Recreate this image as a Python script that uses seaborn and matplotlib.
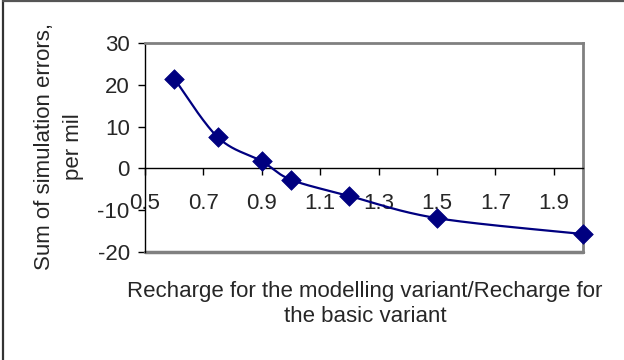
import numpy as np
import pandas as pd
import matplotlib
matplotlib.use("Agg")
import matplotlib.pyplot as plt
import seaborn as sns
from matplotlib.lines import Line2D

# data
ratio = [0.6, 0.75, 0.9, 1.0, 1.2, 1.5, 2.0]
errors = [21.5, 7.4, 1.7, -2.7, -6.6, -11.9, -15.7]
x_ticks = [0.5, 0.7, 0.9, 1.1, 1.3, 1.5, 1.7, 1.9]
y_ticks = [-20, -10, 0, 10, 20, 30]
x_label = "Recharge for the modelling variant/Recharge for\nthe basic variant"
y_label = "Sum of simulation errors,\nper mil"

sns.set_theme(style="white")
plt.rcParams['font.family'] = ['Liberation Sans', 'DejaVu Sans']

FS = 16

fig = plt.figure(figsize=(6.24, 3.6), dpi=100)
ax = fig.add_axes([145/624, 1-252/360, (583-145)/624, (252-43)/360])

# Excel-like smoothed curve (Bezier, Catmull-Rom style control points)
P = np.column_stack([ratio, errors])
n = len(P)
xs, ys = [], []
t = np.linspace(0, 1, 40)
for i in range(n - 1):
    p0 = P[i]
    p3 = P[i + 1]
    pm = P[i - 1] if i > 0 else P[i]
    pp = P[i + 2] if i + 2 < n else P[i + 1]
    c1 = p0 + (p3 - pm) / 6.0
    c2 = p3 - (pp - p0) / 6.0
    seg = ((1 - t)[:, None] ** 3 * p0 + 3 * ((1 - t) ** 2 * t)[:, None] * c1
           + 3 * ((1 - t) * t ** 2)[:, None] * c2 + (t ** 3)[:, None] * p3)
    xs.extend(seg[:, 0])
    ys.extend(seg[:, 1])
curve = pd.DataFrame({"x": xs, "y": ys})
pts = pd.DataFrame({"x": ratio, "y": errors})

navy = "#000080"
sns.lineplot(data=curve, x="x", y="y", sort=False, ax=ax, color=navy, lw=1.6, zorder=3)
sns.scatterplot(data=pts, x="x", y="y", ax=ax, marker="D", s=100, color=navy,
                edgecolor=navy, linewidth=0.5, zorder=4, clip_on=False)

ax.set_xlim(0.5, 2.0)
ax.set_ylim(-20, 30)
ax.set_xticks(x_ticks)
ax.set_xticklabels([f"{v:.1f}" for v in x_ticks])
ax.set_yticks(y_ticks)
ax.set_yticklabels([str(v) for v in y_ticks])
ax.set_xlabel("")
ax.set_ylabel("")

# spines
for s in ["top", "right"]:
    ax.spines[s].set_color("#808080")
    ax.spines[s].set_linewidth(2)
ax.spines["left"].set_color("black")
ax.spines["left"].set_linewidth(1)
ax.spines["bottom"].set_position(("data", 0))
ax.spines["bottom"].set_color("black")
ax.spines["bottom"].set_linewidth(1)
ax.axhline(-20, color="#808080", lw=2.5, zorder=2, clip_on=False)

ax.tick_params(axis="y", direction="out", length=5, width=1, color="black",
               labelsize=FS, pad=6, left=True)
ax.tick_params(axis="x", direction="out", length=5, width=1, color="black",
               labelsize=FS, pad=13, bottom=True)
ax.set_facecolor("white")
ax.grid(False)

fig.text(59/624, 1-147/360, y_label, rotation=90, ha="center", va="center",
         fontsize=FS, linespacing=1.45)
fig.text(365/624, 1-304/360, x_label, ha="center", va="center",
         fontsize=FS, linespacing=1.3)

# outer border (left and top only, picture is cropped)
fig.add_artist(Line2D([3/624, 3/624], [0, 1], transform=fig.transFigure,
                      color="#333333", lw=1.6))
fig.add_artist(Line2D([3/624, 1], [1-1/360, 1-1/360], transform=fig.transFigure,
                      color="#555555", lw=1.6))

fig.savefig("out.png", dpi=100, facecolor="white")
